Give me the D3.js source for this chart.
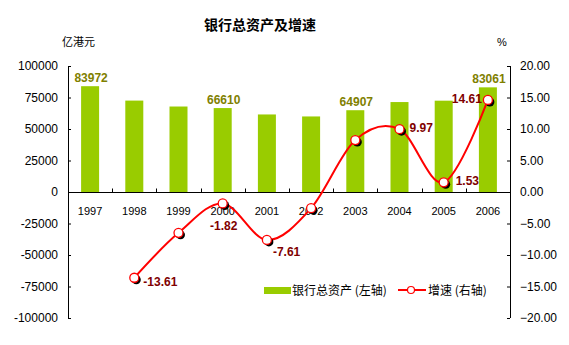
<!DOCTYPE html>
<html>
<head>
<meta charset="utf-8">
<script src="https://cdn.jsdelivr.net/npm/d3@7/dist/d3.min.js"></script>
<style>
  html, body { margin: 0; padding: 0; background: #fff; }
  svg { display: block; }
  text { font-family: "Liberation Sans", Arial, sans-serif; }
  .cjk { font-family: "Noto Sans CJK SC", "Liberation Sans", sans-serif; }
</style>
</head>
<body>
<script>
// Years on the category axis
const years = ["1997", "1998", "1999", "2000", "2001", "2002", "2003", "2004", "2005", "2006"];
// Total bank assets, HK$ hundred million (left axis)
const assets = [83972, 72544, 67845, 66610, 61541, 59960, 64907, 71381, 72473, 83061];
// Year-on-year growth, % (right axis); no value for the first year
const growth = [null, -13.61, -6.48, -1.82, -7.61, -2.57, 8.25, 9.97, 1.53, 14.61];
// Which bars and points carry a value label
const assetLabelYears = ["1997", "2000", "2003", "2006"];
const growthLabelYears = ["1998", "2000", "2001", "2004", "2005", "2006"];
// Tick values for both value axes
const leftTicks = [-100000, -75000, -50000, -25000, 0, 25000, 50000, 75000, 100000];
const rightTicks = [-20, -15, -10, -5, 0, 5, 10, 15, 20];

// Placement of growth labels relative to their point: [dx, dy, anchor]
const growthLabelPlacement = {
  "1998": [9, 8, "start"],
  "2000": [1, 27, "middle"],
  "2001": [6, 16, "start"],
  "2004": [10, 3, "start"],
  "2005": [12, 3, "start"],
  "2006": [-6, 3, "end"]
};

const W = 569, H = 345;
const plotLeft = 68, plotRight = 510, plotTop = 66, plotBottom = 318;

const svg = d3.select("body").append("svg").attr("width", W).attr("height", H);

const x = d3.scaleBand().domain(years).range([plotLeft, plotRight]).paddingInner(0).paddingOuter(0);
const yL = d3.scaleLinear().domain([-100000, 100000]).range([plotBottom, plotTop]);
const yR = d3.scaleLinear().domain([-20, 20]).range([plotBottom, plotTop]);

// Title and axis units
svg.append("text").attr("class", "cjk").attr("x", 260).attr("y", 30)
  .attr("text-anchor", "middle").attr("font-size", 14).attr("font-weight", "bold")
  .attr("fill", "#000").text("银行总资产及增速");
svg.append("text").attr("class", "cjk").attr("x", 62).attr("y", 46)
  .attr("font-size", 11).attr("fill", "#000").text("亿港元");
svg.append("text").attr("x", 502).attr("y", 46).attr("text-anchor", "middle")
  .attr("font-size", 11).attr("fill", "#000").text("%");

// Bars
const barW = 18;
svg.append("g").selectAll("rect").data(years).join("rect")
  .attr("x", (d) => x(d) + x.bandwidth() / 2 - barW / 2)
  .attr("y", (d, i) => yL(assets[i]))
  .attr("width", barW)
  .attr("height", (d, i) => yL(0) - yL(assets[i]))
  .attr("fill", "#99CC00");

// Bar value labels
svg.append("g").selectAll("text").data(years.filter((d) => assetLabelYears.includes(d))).join("text")
  .attr("x", (d) => x(d) + x.bandwidth() / 2 + 1)
  .attr("y", (d) => yL(assets[years.indexOf(d)]) - 4)
  .attr("text-anchor", "middle").attr("font-size", 12).attr("font-weight", "bold")
  .attr("fill", "#808000")
  .text((d) => assets[years.indexOf(d)]);

// Left axis
const axL = d3.axisLeft(yL).tickValues(leftTicks).tickSize(-3).tickPadding(10)
  .tickFormat((d) => String(d));
const gL = svg.append("g").attr("transform", `translate(${plotLeft},0)`).call(axL);
gL.select(".domain").attr("d", `M0.5,${plotTop}V${plotBottom}`).attr("stroke", "#000");
gL.selectAll("text").attr("font-size", 12).attr("font-family", "Liberation Sans, Arial, sans-serif").attr("fill", "#000");

// Right axis
const axR = d3.axisRight(yR).tickValues(rightTicks).tickSize(-3).tickPadding(10)
  .tickFormat(d3.format(".2f"));
const gR = svg.append("g").attr("transform", `translate(${plotRight},0)`).call(axR);
gR.select(".domain").attr("d", `M0.5,${plotTop}V${plotBottom}`).attr("stroke", "#000");
gR.selectAll("text").attr("font-size", 12).attr("font-family", "Liberation Sans, Arial, sans-serif").attr("fill", "#000");

// Category axis along zero
const y0 = Math.round(yL(0)) + 0.5;
const gx = svg.append("g");
gx.append("line").attr("x1", plotLeft).attr("x2", plotRight).attr("y1", y0).attr("y2", y0).attr("stroke", "#000");
gx.selectAll("line.tk").data(years.slice(1)).join("line").attr("class", "tk")
  .attr("x1", (d) => Math.round(x(d)) + 0.5).attr("x2", (d) => Math.round(x(d)) + 0.5)
  .attr("y1", y0).attr("y2", y0 - 4).attr("stroke", "#000");
gx.selectAll("text").data(years).join("text")
  .attr("x", (d) => x(d) + x.bandwidth() / 2)
  .attr("y", y0 + 22)
  .attr("text-anchor", "middle").attr("font-size", 11).attr("fill", "#000")
  .text((d) => d);

// Growth line
const pts = years.map((d, i) => ({ year: d, v: growth[i] })).filter((p) => p.v !== null);
const line = d3.line()
  .x((p) => x(p.year) + x.bandwidth() / 2)
  .y((p) => yR(p.v))
  .curve(d3.curveCardinal.tension(0));
svg.append("path").datum(pts).attr("d", line)
  .attr("fill", "none").attr("stroke", "#FF0000").attr("stroke-width", 2);

// Markers with a small drop shadow
const mk = svg.append("g");
mk.selectAll("circle.sh").data(pts).join("circle").attr("class", "sh")
  .attr("cx", (p) => x(p.year) + x.bandwidth() / 2 + 2)
  .attr("cy", (p) => yR(p.v) + 2)
  .attr("r", 4.5).attr("fill", "#000");
mk.selectAll("circle.pt").data(pts).join("circle").attr("class", "pt")
  .attr("cx", (p) => x(p.year) + x.bandwidth() / 2)
  .attr("cy", (p) => yR(p.v))
  .attr("r", 4.5).attr("fill", "#fff").attr("stroke", "#FF0000").attr("stroke-width", 1.3);

// Growth value labels
svg.append("g").selectAll("text").data(pts.filter((p) => growthLabelYears.includes(p.year))).join("text")
  .attr("x", (p) => x(p.year) + x.bandwidth() / 2 + growthLabelPlacement[p.year][0])
  .attr("y", (p) => yR(p.v) + growthLabelPlacement[p.year][1])
  .attr("text-anchor", (p) => growthLabelPlacement[p.year][2])
  .attr("font-size", 12).attr("font-weight", "bold").attr("fill", "#800000")
  .text((p) => p.v.toFixed(2));

// Legend
const lg = svg.append("g");
lg.append("rect").attr("x", 264).attr("y", 287).attr("width", 27).attr("height", 7).attr("fill", "#99CC00");
lg.append("text").attr("class", "cjk").attr("x", 292).attr("y", 295).attr("font-size", 12)
  .attr("fill", "#000").text("银行总资产 (左轴)");
lg.append("line").attr("x1", 398).attr("x2", 426).attr("y1", 290).attr("y2", 290)
  .attr("stroke", "#FF0000").attr("stroke-width", 2);
lg.append("circle").attr("cx", 411).attr("cy", 290).attr("r", 3.5)
  .attr("fill", "#fff").attr("stroke", "#FF0000").attr("stroke-width", 1.2);
lg.append("text").attr("class", "cjk").attr("x", 428).attr("y", 295).attr("font-size", 12)
  .attr("fill", "#000").text("增速 (右轴)");
</script>
</body>
</html>
